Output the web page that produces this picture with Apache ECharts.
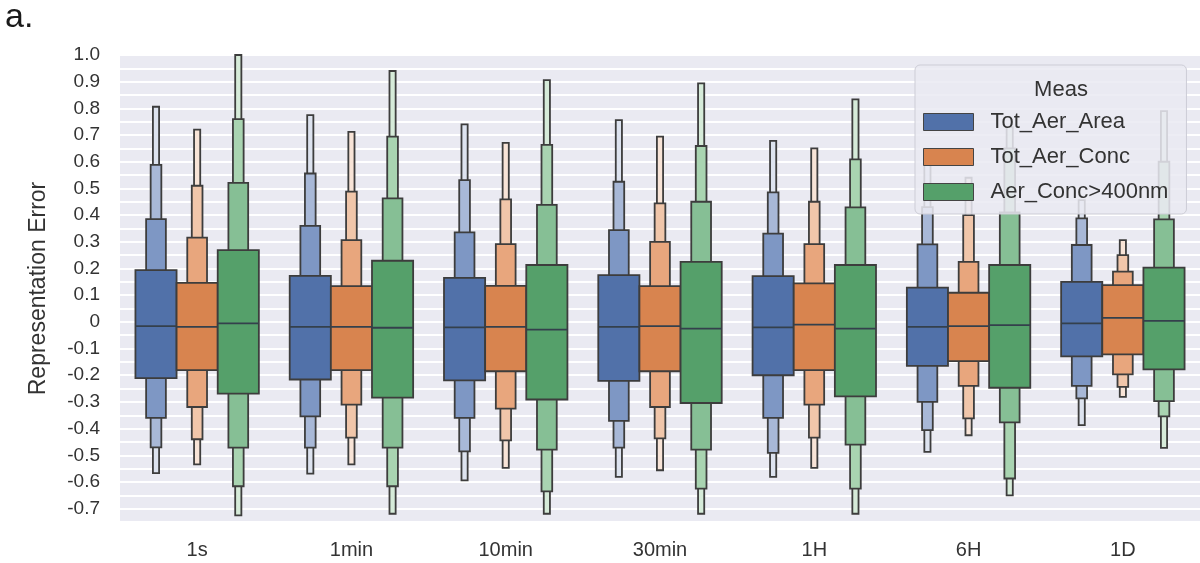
<!DOCTYPE html>
<html>
<head>
<meta charset="utf-8">
<script src="https://cdn.jsdelivr.net/npm/echarts@6/dist/echarts.min.js"></script>
<style>
html,body{margin:0;padding:0;background:#fff;}
#chart{width:1200px;height:563px;}
</style>
</head>
<body>
<div id="chart"></div>
<script>
// ---------- DATA ----------
const categories = ['1s', '1min', '10min', '30min', '1H', '6H', '1D'];
const seriesNames = ['Tot_Aer_Area', 'Tot_Aer_Conc', 'Aer_Conc>400nm'];

// medians per category
const areaMedian = [-0.016, -0.019, -0.021, -0.019, -0.021, -0.019, -0.006];
const concMedian = [-0.019, -0.019, -0.019, -0.016, -0.010, -0.016, 0.015];
const bigMedian  = [-0.006, -0.022, -0.029, -0.025, -0.025, -0.012, 0.004];

// letter-value boundaries, level 1 (quartiles) .. level 4, lower side
const areaLow = [
  [-0.211, -0.360, -0.470, -0.567],
  [-0.216, -0.354, -0.471, -0.569],
  [-0.219, -0.360, -0.485, -0.594],
  [-0.221, -0.371, -0.471, -0.581],
  [-0.200, -0.360, -0.491, -0.581],
  [-0.165, -0.300, -0.406, -0.487],
  [-0.129, -0.240, -0.287, -0.387]
];
const areaHigh = [
  [0.194, 0.385, 0.588, 0.806],
  [0.172, 0.360, 0.556, 0.775],
  [0.165, 0.335, 0.531, 0.740],
  [0.175, 0.344, 0.525, 0.756],
  [0.171, 0.331, 0.485, 0.678],
  [0.128, 0.290, 0.430, 0.600],
  [0.150, 0.288, 0.388, 0.456]
];
const concLow = [
  [-0.181, -0.319, -0.440, -0.534],
  [-0.181, -0.310, -0.434, -0.534],
  [-0.185, -0.325, -0.444, -0.547],
  [-0.185, -0.319, -0.437, -0.556],
  [-0.181, -0.310, -0.434, -0.547],
  [-0.147, -0.240, -0.362, -0.425],
  [-0.122, -0.197, -0.244, -0.281]
];
const concHigh = [
  [0.146, 0.316, 0.510, 0.720],
  [0.134, 0.306, 0.488, 0.712],
  [0.135, 0.291, 0.459, 0.671],
  [0.134, 0.300, 0.444, 0.694],
  [0.144, 0.291, 0.450, 0.650],
  [0.109, 0.225, 0.400, 0.540],
  [0.138, 0.188, 0.250, 0.306]
];
const bigLow = [
  [-0.269, -0.471, -0.616, -0.725],
  [-0.284, -0.471, -0.616, -0.719],
  [-0.291, -0.479, -0.635, -0.719],
  [-0.304, -0.479, -0.625, -0.719],
  [-0.279, -0.460, -0.625, -0.719],
  [-0.247, -0.377, -0.587, -0.650],
  [-0.178, -0.297, -0.354, -0.472]
];
const bigHigh = [
  [0.269, 0.521, 0.760, 1.000],
  [0.229, 0.463, 0.694, 0.940],
  [0.213, 0.438, 0.663, 0.906],
  [0.225, 0.450, 0.659, 0.894],
  [0.213, 0.429, 0.609, 0.834],
  [0.213, 0.410, 0.650, 0.730],
  [0.203, 0.384, 0.600, 0.790]
];

// ---------- STYLE ----------
const FONT = '"Liberation Sans", Arial, sans-serif';
const levelColors = [
  ['#5171a9', '#7e97c4', '#a8b8d7', '#dde3ef'],
  ['#d8844f', '#e8a67d', '#f0c6aa', '#f8e4d7'],
  ['#55a06a', '#86bf95', '#a9d4b1', '#d6ebd9']
];
const widthFrac = [1, 0.48, 0.26, 0.15];
const edge = '#3d3d3d';

function buildData(med, low, high) {
  return categories.map((c, i) => {
    const row = [i, med[i]];
    for (let k = 0; k < 4; k++) { row.push(low[i][k], high[i][k]); }
    return row;
  });
}

function makeRender(sIdx) {
  return function (params, api) {
    const ci = api.value(0);
    const band = api.size([1, 0])[0];
    const boxW = band * 0.8 / 3;
    const cx = api.coord([ci, 0])[0] + (sIdx - 1) * boxW;
    const children = [];
    for (let k = 3; k >= 0; k--) {
      const lo = api.value(2 + 2 * k);
      const hi = api.value(3 + 2 * k);
      const yTop = api.coord([ci, hi])[1];
      const yBot = api.coord([ci, lo])[1];
      const w = boxW * widthFrac[k];
      children.push({
        type: 'rect',
        shape: { x: cx - w / 2, y: yTop, width: w, height: yBot - yTop },
        style: { fill: levelColors[sIdx][k], stroke: edge, lineWidth: 1.8 }
      });
    }
    const ym = api.coord([ci, api.value(1)])[1];
    children.push({
      type: 'line',
      shape: { x1: cx - boxW / 2, y1: ym, x2: cx + boxW / 2, y2: ym },
      style: { stroke: '#34404c', lineWidth: 1.8 }
    });
    return { type: 'group', children: children };
  };
}

const datasets = [
  buildData(areaMedian, areaLow, areaHigh),
  buildData(concMedian, concLow, concHigh),
  buildData(bigMedian, bigLow, bigHigh)
];

const chart = echarts.init(document.getElementById('chart'));
chart.setOption({
  animation: false,
  backgroundColor: '#ffffff',
  graphic: [{
    type: 'text', left: 5, top: 1,
    style: { text: 'a.', fontSize: 34, fontFamily: FONT, fill: '#1a1a1a' }
  }],
  title: {
    text: 'Meas', left: 1056, top: 74, textAlign: 'center',
    textStyle: { fontSize: 22, fontWeight: 'normal', color: '#333', fontFamily: FONT }
  },
  legend: {
    data: seriesNames,
    orient: 'vertical',
    left: 915, top: 65,
    padding: [46, 18, 11, 8],
    itemWidth: 50, itemHeight: 17, itemGap: 13,
    icon: 'rect',
    itemStyle: { borderColor: '#444', borderWidth: 1 },
    backgroundColor: 'rgba(234,234,242,0.86)',
    borderColor: '#cdcdd6', borderWidth: 1, borderRadius: 5,
    textStyle: { fontSize: 22, color: '#333', fontFamily: FONT, padding: [0, 0, 0, 12] }
  },
  grid: {
    left: 120, top: 55, width: 1087, height: 467,
    show: true, backgroundColor: '#eaeaf2', borderWidth: 0
  },
  xAxis: {
    type: 'category', data: categories,
    axisLine: { show: false }, axisTick: { show: false },
    splitLine: { show: false },
    axisLabel: { fontSize: 20, color: '#333', fontFamily: FONT, margin: 18 }
  },
  yAxis: {
    type: 'value', min: -0.75, max: 1.0, interval: 0.05,
    name: 'Representation Error', nameLocation: 'middle', nameGap: 70,
    nameTextStyle: { fontSize: 23, color: '#333', fontFamily: FONT },
    axisLine: { show: false }, axisTick: { show: false },
    splitLine: { show: true, lineStyle: { color: '#ffffff', width: 1.8 } },
    axisLabel: {
      fontSize: 19, color: '#333', fontFamily: FONT, margin: 20,
      formatter: function (v) {
        const t = Math.round(v * 20);
        if (t % 2 !== 0) return '';
        const r = t / 20;
        if (r === 0) return '0';
        return r.toFixed(1);
      }
    }
  },
  series: seriesNames.map((name, s) => ({
    type: 'custom',
    name: name,
    itemStyle: { color: levelColors[s][0] },
    renderItem: makeRender(s),
    encode: { x: 0, y: [1, 2, 3, 4, 5, 6, 7, 8, 9] },
    data: datasets[s],
    z: 2
  }))
});
</script>
</body>
</html>
